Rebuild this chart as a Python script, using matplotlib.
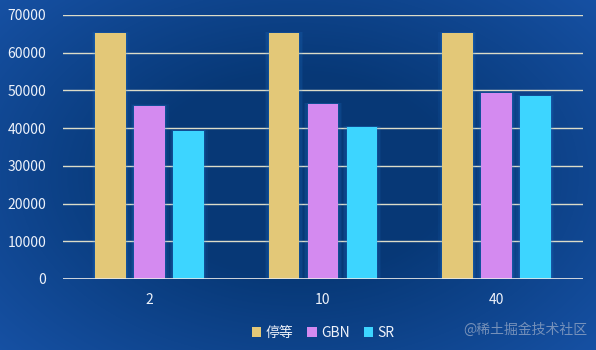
import numpy as np
import matplotlib.pyplot as plt

plt.rcParams['font.family'] = ['Noto Sans CJK SC', 'DejaVu Sans']

categories = ['2', '10', '40']
series_names = ['停等', 'GBN', 'SR']
stop_wait = [65200, 65200, 65200]
gbn = [46000, 46500, 49300]
sr = [39300, 40400, 48500]
colors = ['#e3c878', '#d48af0', '#3dd5ff']

fig = plt.figure(figsize=(5.96, 3.5), dpi=100)

# radial-ish blue background
bg = fig.add_axes([0, 0, 1, 1])
yy, xx = np.mgrid[-1:1:350j, -1:1:596j]
r = np.sqrt((xx * 0.9) ** 2 + (yy * 0.8) ** 2)
c0 = np.array([0x07, 0x38, 0x76]) / 255
c1 = np.array([0x17, 0x52, 0xa6]) / 255
t = np.clip((r - 0.45) / 0.8, 0, 1)[..., None]
bg.imshow(c0 * (1 - t) + c1 * t, aspect='auto', extent=[0, 1, 0, 1])
bg.axis('off')

ax = fig.add_axes([63 / 596, 71 / 350, 520 / 596, 264 / 350])
ax.patch.set_alpha(0)

x = np.arange(len(categories))
w = 0.178
step = 0.225
for i, (vals, col, name) in enumerate(zip([stop_wait, gbn, sr], colors, series_names)):
    pos = x + (i - 1) * step
    # soft glow around bars
    for k, a in [(0.04, 0.07), (0.025, 0.1), (0.012, 0.14)]:
        ax.bar(pos, np.array(vals) + k * 7000, width=w + k, color='#2a86e0',
               alpha=a, zorder=2, linewidth=0)
    ax.bar(pos, vals, width=w, color=col, zorder=3, label=name, linewidth=0)

ax.set_xlim(-0.5, 2.5)
ax.set_ylim(0, 70000)
ax.set_yticks(range(0, 70001, 10000))
ax.set_xticks(x)
ax.set_xticklabels(categories)
ax.yaxis.grid(True, color='#dcdcc8', linewidth=1, zorder=1)
ax.set_axisbelow(True)
for s in ax.spines.values():
    s.set_visible(False)
ax.axhline(0, color='#e8e8e8', linewidth=1.2, zorder=4)
ax.tick_params(axis='both', length=0, colors='#eef2fa', labelsize=10)
ax.tick_params(axis='y', pad=12)
ax.tick_params(axis='x', pad=10)

leg = ax.legend(loc='upper center', bbox_to_anchor=(0.5, -0.13), ncol=3,
                frameon=False, handlelength=0.7, handleheight=0.7,
                handletextpad=0.3, columnspacing=1.0, fontsize=10)
for txt in leg.get_texts():
    txt.set_color('#eef2fa')

fig.text(0.985, 0.057, '@稀土掘金技术社区', ha='right', va='center',
         color='#8fa3c3', fontsize=10, alpha=0.8)

fig.savefig('out.png', dpi=100)
